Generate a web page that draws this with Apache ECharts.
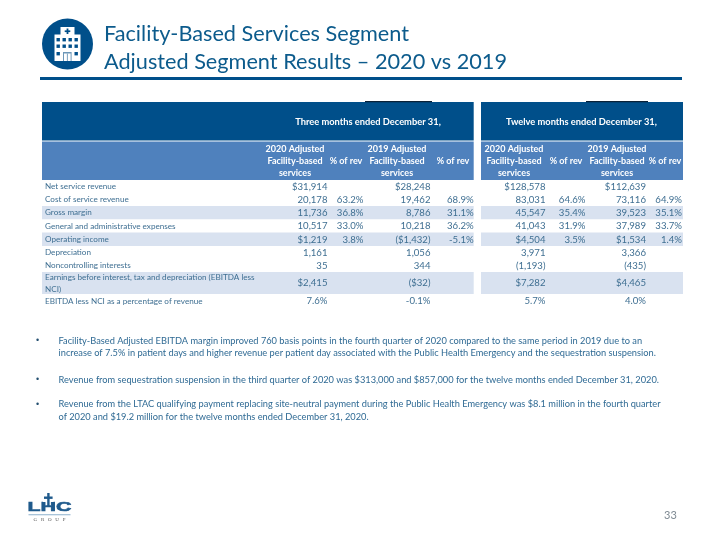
<!DOCTYPE html>
<html><head><meta charset="utf-8">
<style>html,body{margin:0;padding:0;background:#fff}#c{width:720px;height:540px}</style>
<script src="https://cdn.jsdelivr.net/npm/echarts@6/dist/echarts.min.js"></script>
</head><body><div id="c"></div>
<script>
const titleLines = ['Facility-Based Services Segment', 'Adjusted Segment Results – 2020 vs 2019'];
const periodHeaders = ['Three months ended December 31,', 'Twelve months ended December 31,'];
const columnHeaders = [
  ['2020 Adjusted','Facility-based','services'], ['% of rev'],
  ['2019 Adjusted','Facility-based','services'], ['% of rev'],
  ['2020 Adjusted','Facility-based','services'], ['% of rev'],
  ['2019 Adjusted','Facility-based','services'], ['% of rev']
];
const rowLabels = [
  ['Net service revenue'], ['Cost of service revenue'], ['Gross margin'],
  ['General and administrative expenses'], ['Operating income'], ['Depreciation'],
  ['Noncontrolling interests'],
  ['Earnings before interest, tax and depreciation (EBITDA less','NCI)'],
  ['EBITDA less NCI as a percentage of revenue']
];
const q2020 = ['$31,914','20,178','11,736','10,517','$1,219','1,161','35','$2,415','7.6%'];
const q2020Pct = ['','63.2%','36.8%','33.0%','3.8%','','','',''];
const q2019 = ['$28,248','19,462','8,786','10,218','($1,432)','1,056','344','($32)','-0.1%'];
const q2019Pct = ['','68.9%','31.1%','36.2%','-5.1%','','','',''];
const y2020 = ['$128,578','83,031','45,547','41,043','$4,504','3,971','(1,193)','$7,282','5.7%'];
const y2020Pct = ['','64.6%','35.4%','31.9%','3.5%','','','',''];
const y2019 = ['$112,639','73,116','39,523','37,989','$1,534','3,366','(435)','$4,465','4.0%'];
const y2019Pct = ['','64.9%','35.1%','33.7%','1.4%','','','',''];
const valueColumns = [q2020,q2020Pct,q2019,q2019Pct,y2020,y2020Pct,y2019,y2019Pct];
const bullets = [
  ['Facility-Based Adjusted EBITDA margin improved 760 basis points in the fourth quarter of 2020 compared to the same period in 2019 due to an',
   'increase of 7.5% in patient days and higher revenue per patient day associated with the Public Health Emergency and the sequestration suspension.'],
  ['Revenue from sequestration suspension in the third quarter of 2020 was $313,000 and $857,000 for the twelve months ended December 31, 2020.'],
  ['Revenue from the LTAC qualifying payment replacing site-neutral payment during the Public Health Emergency was $8.1 million in the fourth quarter',
   'of 2020 and $19.2 million for the twelve months ended December 31, 2020.']
];
const pageNumber = '33';

// layout (pixels on the 720x540 slide)
const FONT = 'Lato, "Open Sans", sans-serif';
const DARK='#004f8a', MID='#4f81bd', BAND='#d9e2f0', TXT='#3f6f92', BODY='#2f6a94';
const colRight=[327.5,363.5,430.5,473.7,545.5,585.5,646,682];
const colCenter=[295,346,397,453,514,566,617,665];
const rowTop=[180,193.3,206,219.3,232.5,246,259,272,294];
const rowH=[13.3,12.7,13.3,13.2,13.5,13,13,22,14];
const blocks=[[42,473.7],[481,683]];
const bodyY=[[341,353.5],[380],[404.5,417]];

const cells=[];
blocks.forEach(b=>{
  cells.push({t:'r',x:b[0],y:102,w:b[1]-b[0],h:38.5,c:DARK});
  cells.push({t:'r',x:b[0],y:141.5,w:b[1]-b[0],h:38.5,c:MID});
});
cells.push({t:'r',x:365,y:101,w:67,h:1.2,c:'#0a2238'});
cells.push({t:'r',x:586,y:101,w:62,h:1.2,c:'#0a2238'});
[2,4,7].forEach(i=>blocks.forEach(b=>cells.push({t:'r',x:b[0],y:rowTop[i],w:b[1]-b[0],h:rowH[i],c:BAND})));
periodHeaders.forEach((s,i)=>cells.push({t:'x',s,x:[368,581.5][i],y:122,a:'center',c:'#fff',f:'bold 9.3px '+FONT}));
columnHeaders.forEach((ls,i)=>{
  const n=ls.length;
  ls.forEach((s,j)=>cells.push({t:'x',s,x:colCenter[i],y:n===1?161:149+j*12,a:'center',c:'#fff',f:'bold 9px '+FONT}));
});
rowLabels.forEach((ls,i)=>{
  const mid=rowTop[i]+rowH[i]/2+0.2;
  ls.forEach((s,j)=>cells.push({t:'x',s,x:45,y:mid+(j-(ls.length-1)/2)*11.5,a:'left',c:TXT,f:'8.15px '+FONT}));
});
valueColumns.forEach((col,k)=>col.forEach((s,i)=>{
  if(s) cells.push({t:'x',s,x:colRight[k],y:rowTop[i]+rowH[i]/2+0.2,a:'right',c:TXT,f:'9.6px '+FONT});
}));
bullets.forEach((ls,i)=>{
  cells.push({t:'x',s:'•',x:36,y:bodyY[i][0],a:'left',c:'#244f70',f:'9px Arial,"Liberation Sans",sans-serif'});
  ls.forEach((s,j)=>cells.push({t:'x',s,x:58.5,y:bodyY[i][j],a:'left',c:BODY,f:'9.25px '+FONT}));
});
titleLines.forEach((s,i)=>cells.push({t:'x',s,x:104,y:[34,62][i],a:'left',c:'#0c5b8c',f:'21.7px '+FONT}));
cells.push({t:'r',x:40,y:77,w:642,h:3,c:DARK});
cells.push({t:'x',s:pageNumber,x:664,y:515,a:'left',c:'#7f8a93',f:'11px '+FONT});

const icon=[
 {type:'circle',shape:{cx:67.5,cy:44,r:25.5},style:{fill:DARK}},
 {type:'rect',shape:{x:60.5,y:27,width:14,height:9},style:{fill:'#fff'}},
 {type:'rect',shape:{x:54.5,y:34.5,width:26,height:26.5},style:{fill:'#fff'}},
 {type:'rect',shape:{x:66.6,y:28.5,width:1.8,height:5.5},style:{fill:DARK}},
 {type:'rect',shape:{x:64.7,y:30.4,width:5.6,height:1.7},style:{fill:DARK}}
];
[0,1,2,3].forEach(c=>[38,44.5].forEach(r=>icon.push({type:'rect',shape:{x:56.5+c*6,y:r,width:3.4,height:3.4},style:{fill:DARK}})));
[0,3].forEach(c=>icon.push({type:'rect',shape:{x:56.5+c*6,y:52,width:3.4,height:3.4},style:{fill:DARK}}));
icon.push({type:'rect',shape:{x:63,y:52,width:8.6,height:9},style:{fill:'#6d97b8'}});
icon.push({type:'rect',shape:{x:64,y:53.5,width:6.6,height:7.5},style:{fill:'#fff'}});
icon.push({type:'rect',shape:{x:66.9,y:53.5,width:0.9,height:7.5},style:{fill:'#6d97b8'}});
const logo=[
 {type:'text',x:27.5,y:507.5,scaleX:1.58,style:{text:'LHC',x:0,y:0,font:'900 13.5px "Liberation Sans",Arial,sans-serif',fill:'#1f5a8c',stroke:'#1f5a8c',lineWidth:0.6,verticalAlign:'middle',textAlign:'left'}},
 {type:'rect',shape:{x:43,y:492.5,width:10.6,height:9.5},style:{fill:'#fff'}},
 {type:'rect',shape:{x:47.2,y:493,width:2.4,height:13},style:{fill:'#1f5a8c'}},
 {type:'rect',shape:{x:44,y:496.5,width:8.6,height:2.4},style:{fill:'#1f5a8c'}},
 {type:'rect',shape:{x:28.5,y:514.3,width:42,height:1},style:{fill:'#8cb0cc'}},
 {type:'text',style:{text:'G   R   O   U   P',x:49.5,y:519.3,font:'5px "Liberation Serif",serif',fill:'#555',verticalAlign:'middle',textAlign:'center'}}
];

const chart=echarts.init(document.getElementById('c'),null,{renderer:'canvas'});
chart.setOption({
  animation:false,
  backgroundColor:'#fff',
  grid:{left:0,right:0,top:0,bottom:0},
  xAxis:{type:'value',min:0,max:720,show:false},
  yAxis:{type:'value',min:0,max:540,inverse:true,show:false},
  graphic:{elements:icon.concat(logo).map(e=>Object.assign({silent:true,z:5},e))},
  series:[{
    type:'custom',coordinateSystem:'cartesian2d',silent:true,clip:false,
    data:cells.map((c,i)=>[c.x,c.y,i]),
    encode:{x:0,y:1},
    renderItem(p,api){
      const c=cells[api.value(2)], a=api.coord([c.x,c.y]);
      if(c.t==='r'){
        const b=api.coord([c.x+c.w,c.y+c.h]);
        return {type:'rect',shape:{x:a[0],y:a[1],width:b[0]-a[0],height:b[1]-a[1]},style:{fill:c.c},z2:0};
      }
      return {type:'text',x:a[0],y:a[1],style:{text:c.s,fill:c.c,font:c.f,textAlign:c.a,textVerticalAlign:'middle'},z2:2};
    }
  }]
});
</script></body></html>
